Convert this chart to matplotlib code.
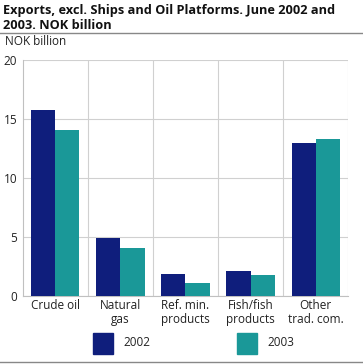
import matplotlib.pyplot as plt
from matplotlib.patches import Rectangle
from matplotlib.lines import Line2D
import numpy as np

plt.rcParams['font.family'] = ['Open Sans', 'DejaVu Sans']

categories = ['Crude oil', 'Natural\ngas', 'Ref. min.\nproducts', 'Fish/fish\nproducts', 'Other\ntrad. com.']
v2002 = [15.8, 4.9, 1.9, 2.1, 13.0]
v2003 = [14.1, 4.1, 1.1, 1.8, 13.3]
years = ['2002', '2003']
colors = ['#0f1e7c', '#1a9898']

fig = plt.figure(figsize=(3.63, 3.64), dpi=100)
ax = fig.add_axes([0.063, 0.187, 0.896, 0.648])

x = np.arange(len(categories))
w = 0.37
ax.bar(x - w / 2, v2002, w, color=colors[0], zorder=3)
ax.bar(x + w / 2, v2003, w, color=colors[1], zorder=3)

ax.set_xlim(-0.5, len(categories) - 0.5)
ax.set_ylim(0, 20)
ax.set_yticks([0, 5, 10, 15, 20])
ax.set_xticks(x)
ax.set_xticklabels(categories, fontsize=8.5, linespacing=1.1)
ax.tick_params(axis='y', labelsize=8.5, length=0, pad=4, colors='#222222')
ax.tick_params(axis='x', length=0, pad=2, colors='#222222')
ax.grid(axis='y', color='#d0d0d0', linewidth=0.8, zorder=0)
for b in np.arange(0.5, len(categories) - 0.5, 1):
    ax.axvline(b, color='#d0d0d0', linewidth=0.8, zorder=0)
for s in ['top', 'right']:
    ax.spines[s].set_visible(False)
for s in ['left', 'bottom']:
    ax.spines[s].set_color('#c0c0c0')
    ax.spines[s].set_linewidth(0.8)
ax.axvline(len(categories) - 0.5, color='#d0d0d0', linewidth=0.8, zorder=0)

fig.text(0.008, 0.99, 'Exports, excl. Ships and Oil Platforms. June 2002 and\n2003. NOK billion',
         fontsize=9.2, fontweight='bold', va='top', ha='left', linespacing=1.2, color='#111111')
fig.add_artist(Line2D([0, 1], [0.91, 0.91], color='#888888', linewidth=1))
fig.text(0.014, 0.885, 'NOK billion', fontsize=8.5, va='center', ha='left', color='#222222')

# legend
for px, label, c in [(93, years[0], colors[0]), (237, years[1], colors[1])]:
    fig.add_artist(Rectangle((px / 363, 1 - 354 / 364), 20 / 363, 21 / 364,
                             transform=fig.transFigure, color=c))
    fig.text((px + 30) / 363, 1 - 343 / 364, label, fontsize=8.5, va='center', ha='left', color='#222222')
fig.add_artist(Line2D([0, 1], [1 - 362 / 364, 1 - 362 / 364], color='#888888', linewidth=1))

fig.savefig('out.png', dpi=100)
